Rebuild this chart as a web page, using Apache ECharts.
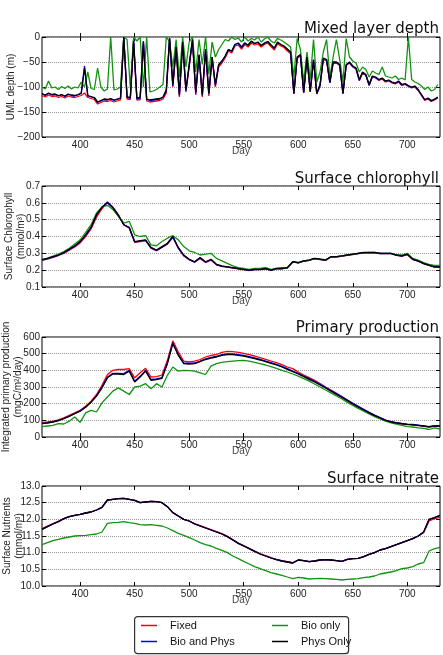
<!DOCTYPE html>
<html>
<head>
<meta charset="utf-8">
<script src="https://cdn.jsdelivr.net/npm/echarts@6/dist/echarts.min.js"></script>
<style>
  html, body { margin: 0; padding: 0; background: #fff; }
  #chart { width: 443px; height: 655px; }
</style>
</head>
<body>
<div id="chart"></div>
<script>
// --- data (days 365..730) ---
const seriesNames = ["Fixed", "Bio and Phys", "Bio only", "Phys Only"];
const seriesColors = ["#ff0000", "#0000ff", "#119311", "#000000"];
const xTicks = [400, 450, 500, 550, 600, 650, 700];

// mixed layer depth, every 3 days from day 365
const mldFixed = [-117,-120,-116,-119,-118,-121,-119,-122,-118,-120,-121,-119,-117,-112,-121,-123,-125,-134,-131,-128,-129,-127,-130,-128,-126,-2,-124,-125,-10,-126,-125,-12,-128,-130,-129,-128,-127,-124,-112,-4,-100,-24,-120,-14,-110,-60,-8,-116,-40,-120,-28,-118,-44,-100,-60,-52,-42,-28,-32,-18,-16,-24,-15,-20,-12,-16,-14,-20,-15,-12,-19,-26,-14,-18,-21,-28,-33,-114,-43,-38,-112,-43,-110,-48,-114,-98,-45,-48,-92,-53,-52,-57,-113,-57,-52,-60,-64,-87,-72,-77,-96,-80,-82,-87,-84,-90,-88,-92,-94,-90,-97,-95,-99,-102,-100,-107,-117,-127,-124,-129,-126,-122];
const mldBioPhys = [-114,-117,-113,-116,-115,-118,-116,-119,-115,-117,-118,-116,-113,-58,-118,-120,-122,-131,-128,-125,-126,-124,-127,-125,-123,0,-121,-122,-6,-123,-122,-8,-125,-127,-126,-125,-124,-121,-108,-2,-98,-18,-117,-10,-108,-56,-5,-113,-36,-117,-24,-114,-40,-97,-56,-49,-38,-25,-29,-15,-13,-21,-12,-17,-9,-13,-11,-17,-13,-9,-16,-23,-11,-15,-19,-25,-31,-114,-41,-36,-112,-41,-110,-46,-114,-97,-43,-46,-92,-51,-51,-56,-114,-56,-51,-59,-63,-87,-71,-76,-97,-79,-81,-86,-83,-89,-87,-91,-93,-89,-96,-94,-98,-101,-99,-106,-116,-126,-123,-128,-125,-121];
const mldBio = [-100,-104,-88,-102,-100,-105,-99,-103,-98,-104,-100,-102,-90,-100,-70,-103,-105,-62,-100,-108,-104,0,-106,-104,-100,0,-5,-102,0,-8,0,-100,0,-110,-108,-105,-100,-95,0,-10,-60,-5,-80,0,-60,-10,0,-70,-5,-55,0,-75,-10,-40,-25,-15,-5,-8,0,-5,-2,-10,0,-8,-3,-6,0,-10,-4,0,-8,-12,-3,-6,-10,-15,-20,-80,-3,-25,-90,-30,-85,-5,-90,-70,-30,-5,-80,-40,-5,-45,-90,-3,-40,-48,-52,-70,-60,-65,-80,-68,-72,-75,-60,-78,-80,-82,-78,-85,-82,-86,0,-85,-90,-93,-98,-105,-100,-108,-105,-95];
const mldPhys = [-113,-116,-112,-115,-114,-117,-115,-118,-114,-116,-117,-115,-112,-62,-117,-119,-121,-130,-127,-124,-125,-123,-126,-124,-122,0,-120,-121,-8,-122,-121,-10,-124,-126,-125,-124,-123,-120,-105,-2,-95,-20,-115,-10,-105,-55,-5,-110,-35,-115,-25,-112,-40,-95,-55,-48,-38,-25,-28,-15,-12,-20,-12,-16,-8,-13,-10,-17,-12,-9,-16,-22,-10,-15,-18,-24,-30,-112,-40,-35,-110,-40,-108,-45,-112,-95,-42,-45,-90,-50,-50,-55,-112,-55,-50,-58,-62,-85,-70,-75,-95,-78,-80,-85,-82,-88,-86,-90,-92,-88,-95,-93,-97,-100,-98,-105,-115,-125,-122,-127,-124,-120];

// surface chlorophyll, every 5 days from day 365
const chlFixed = [0.258,0.266,0.276,0.287,0.3,0.318,0.338,0.362,0.4,0.445,0.515,0.565,0.605,0.575,0.53,0.47,0.45,0.365,0.37,0.375,0.33,0.315,0.335,0.355,0.395,0.33,0.285,0.262,0.247,0.27,0.245,0.26,0.232,0.222,0.218,0.212,0.208,0.203,0.198,0.203,0.203,0.208,0.198,0.208,0.208,0.213,0.248,0.243,0.253,0.258,0.268,0.263,0.258,0.278,0.278,0.283,0.288,0.293,0.298,0.303,0.303,0.303,0.298,0.298,0.298,0.288,0.283,0.293,0.263,0.253,0.238,0.228,0.218,0.218];
const chlBioPhys = [0.26,0.268,0.278,0.289,0.303,0.322,0.342,0.367,0.407,0.452,0.527,0.572,0.603,0.573,0.527,0.47,0.452,0.367,0.372,0.377,0.332,0.317,0.337,0.357,0.398,0.332,0.287,0.263,0.248,0.272,0.247,0.262,0.233,0.223,0.219,0.213,0.209,0.204,0.199,0.204,0.204,0.209,0.199,0.209,0.209,0.214,0.249,0.244,0.254,0.259,0.269,0.264,0.259,0.279,0.279,0.284,0.289,0.294,0.299,0.304,0.304,0.304,0.299,0.299,0.299,0.289,0.284,0.294,0.264,0.254,0.239,0.229,0.219,0.219];
const chlBio = [0.262,0.272,0.283,0.295,0.31,0.33,0.355,0.38,0.425,0.47,0.54,0.575,0.585,0.56,0.52,0.48,0.49,0.41,0.4,0.405,0.35,0.345,0.37,0.39,0.405,0.38,0.34,0.315,0.305,0.29,0.295,0.3,0.27,0.255,0.24,0.225,0.215,0.21,0.205,0.21,0.21,0.215,0.205,0.21,0.215,0.215,0.25,0.245,0.255,0.26,0.27,0.265,0.262,0.28,0.28,0.285,0.29,0.295,0.3,0.303,0.305,0.305,0.3,0.3,0.3,0.292,0.29,0.3,0.27,0.26,0.245,0.235,0.228,0.228];
const chlPhys = [0.262,0.27,0.28,0.29,0.305,0.325,0.345,0.37,0.41,0.455,0.53,0.575,0.6,0.57,0.525,0.47,0.455,0.37,0.375,0.38,0.335,0.32,0.34,0.36,0.4,0.335,0.29,0.265,0.25,0.275,0.25,0.265,0.235,0.225,0.22,0.215,0.21,0.205,0.2,0.205,0.205,0.21,0.2,0.21,0.21,0.215,0.25,0.245,0.255,0.26,0.27,0.265,0.26,0.28,0.28,0.285,0.29,0.295,0.3,0.305,0.305,0.305,0.3,0.3,0.3,0.29,0.285,0.295,0.265,0.255,0.24,0.23,0.22,0.22];

// integrated primary production, every 5 days from day 365
const ppFixed = [86,90,95,103,115,130,145,160,185,215,255,310,375,400,405,405,410,355,385,412,360,362,372,460,578,510,455,450,455,465,480,490,495,508,514,512,508,502,494,486,476,466,456,446,434,420,410,390,372,356,340,320,300,282,262,242,222,202,182,164,146,130,116,102,92,84,78,74,72,68,64,62,66,68];
const ppBioPhys = [82,86,91,99,111,126,141,157,180,210,248,300,360,382,382,380,400,334,364,400,345,348,356,446,566,495,444,442,444,456,469,478,484,494,499,498,494,489,482,474,466,456,446,436,424,410,396,382,366,350,334,316,298,279,260,241,222,202,184,166,148,131,117,102,92,86,81,77,75,71,67,62,67,66];
const ppBio = [62,66,70,80,78,95,120,88,145,160,150,205,240,275,295,275,255,300,305,320,290,320,300,370,420,395,400,398,395,385,375,425,440,448,452,455,458,460,455,448,440,432,422,412,400,390,378,365,350,335,318,300,282,265,246,228,208,190,172,155,138,122,108,95,85,78,70,62,60,55,52,45,55,48];
const ppPhys = [80,84,90,98,110,124,140,155,178,208,245,295,355,378,378,375,395,330,360,395,340,345,352,440,560,490,440,438,440,452,465,474,480,490,495,494,490,485,478,470,462,452,442,432,420,406,392,378,362,346,330,312,294,275,256,237,218,198,180,162,145,128,114,100,90,84,80,76,74,70,66,60,66,65];

// surface nitrate, every 5 days from day 365
const no3Fixed = [11.72,11.8,11.87,11.94,12.02,12.08,12.12,12.15,12.19,12.22,12.28,12.36,12.57,12.6,12.62,12.63,12.6,12.57,12.5,12.52,12.54,12.53,12.5,12.38,12.2,12.1,12.0,11.95,11.87,11.81,11.75,11.69,11.63,11.57,11.49,11.39,11.29,11.21,11.13,11.05,10.97,10.91,10.85,10.8,10.76,10.73,10.7,10.78,10.76,10.73,10.75,10.78,10.79,10.78,10.76,10.74,10.8,10.82,10.83,10.88,10.95,11.0,11.08,11.12,11.18,11.24,11.3,11.36,11.42,11.5,11.6,11.95,12.02,12.06];
const no3BioPhys = [11.7,11.78,11.86,11.93,12.02,12.08,12.12,12.15,12.19,12.22,12.28,12.36,12.58,12.6,12.62,12.63,12.6,12.57,12.5,12.52,12.54,12.53,12.5,12.38,12.2,12.1,12.0,11.95,11.86,11.8,11.74,11.68,11.62,11.56,11.48,11.38,11.28,11.2,11.12,11.04,10.96,10.9,10.84,10.79,10.75,10.72,10.69,10.78,10.76,10.73,10.75,10.78,10.79,10.78,10.76,10.74,10.8,10.82,10.83,10.88,10.95,11.0,11.08,11.12,11.18,11.24,11.3,11.36,11.42,11.5,11.62,12.0,12.05,12.12];
const no3Bio = [11.24,11.3,11.36,11.4,11.44,11.47,11.5,11.51,11.52,11.54,11.56,11.62,11.88,11.9,11.91,11.93,11.9,11.88,11.84,11.83,11.84,11.82,11.8,11.74,11.66,11.58,11.52,11.45,11.38,11.3,11.24,11.2,11.13,11.07,11.0,10.9,10.82,10.74,10.66,10.58,10.52,10.46,10.4,10.36,10.32,10.27,10.22,10.26,10.24,10.21,10.22,10.23,10.22,10.21,10.2,10.18,10.2,10.21,10.22,10.25,10.27,10.3,10.36,10.39,10.42,10.46,10.52,10.54,10.58,10.66,10.7,11.05,11.12,11.16];
const no3Phys = [11.7,11.78,11.86,11.93,12.02,12.08,12.12,12.15,12.19,12.22,12.28,12.36,12.58,12.6,12.62,12.63,12.6,12.57,12.5,12.52,12.54,12.53,12.5,12.38,12.2,12.1,12.0,11.95,11.86,11.8,11.74,11.68,11.62,11.56,11.48,11.38,11.28,11.2,11.12,11.04,10.96,10.9,10.84,10.79,10.75,10.72,10.69,10.78,10.76,10.73,10.75,10.78,10.79,10.78,10.76,10.74,10.8,10.82,10.83,10.88,10.95,11.0,11.08,11.12,11.18,11.24,11.3,11.36,11.42,11.5,11.62,12.0,12.05,12.12];

const mldDays = [];
for (let d = 365; d <= 728; d += 3) mldDays.push(d);
const days = [];
for (let d = 365; d <= 730; d += 5) days.push(d);

const pairs = (xs, ys) => xs.map((x, i) => [x, ys[i]]);
const minus = v => (v < 0 ? "\u2212" + Math.abs(v) : String(v));

const panels = [
  { title: "Mixed layer depth", top: 37, height: 100, titleTop: 22, min: -200, max: 0, interval: 50,
    name: "UML depth (m)", nameGap: 25, fmt: minus, x: mldDays, data: [mldFixed, mldBioPhys, mldBio, mldPhys] },
  { title: "Surface chlorophyll", top: 186, height: 101, titleTop: 172, min: 0.1, max: 0.7, interval: 0.1,
    name: "Surface Chlorophyll\n(mmol/m\u00b3)", nameGap: 15, fmt: v => v.toFixed(1), x: days, data: [chlFixed, chlBioPhys, chlBio, chlPhys] },
  { title: "Primary production", top: 337, height: 100, titleTop: 321, min: 0, max: 600, interval: 100,
    name: "Integrated primary production\n(mgC/m\u00b2/day)", nameGap: 18, fmt: v => String(v), x: days, data: [ppFixed, ppBioPhys, ppBio, ppPhys] },
  { title: "Surface nitrate", top: 486, height: 100, titleTop: 472, min: 10, max: 13, interval: 0.5,
    name: "Surface Nutrients\n(mmol/m\u00b3)", nameGap: 17, fmt: v => v.toFixed(1), x: days, data: [no3Fixed, no3BioPhys, no3Bio, no3Phys] }
];

const font = "'Liberation Sans', Arial, sans-serif";
const tickFont = "'Liberation Sans Narrow', 'Arial Narrow', 'Liberation Sans', sans-serif";
const tickStyle = { inside: true, length: 4, lineStyle: { color: "#000", width: 1 } };

const grid = [], xAxis = [], yAxis = [], title = [], series = [];
panels.forEach((p, i) => {
  grid.push({ left: 42, right: 3, top: p.top, height: p.height, show: true, outerBoundsMode: "none",
    containLabel: false, borderColor: "#000", borderWidth: 1, backgroundColor: "#fff" });
  title.push({ text: p.title, right: 4, top: p.titleTop, padding: 0,
    textStyle: { fontFamily: "'DejaVu Sans', sans-serif", fontSize: 15, fontWeight: "normal", color: "#111" } });

  // bottom and top x axes
  xAxis.push({ type: "value", gridIndex: i, min: 365, max: 730, position: "bottom",
    name: "Day", nameLocation: "middle", nameGap: 9, nameMoveOverlap: false,
    nameTextStyle: { fontFamily: font, fontSize: 10, color: "#444" },
    axisLine: { show: false },
    axisTick: Object.assign({ customValues: xTicks }, tickStyle),
    axisLabel: { customValues: xTicks, margin: 3, fontFamily: tickFont, fontSize: 10, color: "#222" },
    splitLine: { show: false } });
  xAxis.push({ type: "value", gridIndex: i, min: 365, max: 730, position: "top",
    axisLine: { show: false },
    axisTick: Object.assign({ customValues: xTicks }, tickStyle),
    axisLabel: { show: false }, splitLine: { show: false } });

  // left and right y axes
  yAxis.push({ type: "value", gridIndex: i, min: p.min, max: p.max, interval: p.interval, position: "left",
    name: p.name, nameLocation: "middle", nameGap: p.nameGap, nameRotate: 90, nameMoveOverlap: false,
    nameTextStyle: { fontFamily: font, fontSize: 10, color: "#222", lineHeight: 12 },
    axisLine: { show: false }, axisTick: tickStyle,
    axisLabel: { margin: 2, fontFamily: tickFont, fontSize: 10, color: "#222", formatter: p.fmt },
    splitLine: { show: true, lineStyle: { type: "dotted", color: "#999", width: 1 } } });
  yAxis.push({ type: "value", gridIndex: i, min: p.min, max: p.max, interval: p.interval, position: "right",
    axisLine: { show: false }, axisTick: tickStyle,
    axisLabel: { show: false }, splitLine: { show: false } });

  p.data.forEach((vals, k) => {
    series.push({ name: seriesNames[k], type: "line", xAxisIndex: i * 2, yAxisIndex: i * 2,
      data: pairs(p.x, vals), symbol: "none", color: seriesColors[k],
      lineStyle: { width: 1.3, color: seriesColors[k] }, z: 2 + k });
  });
});

const legendText = { fontFamily: font, fontSize: 11, color: "#111", padding: [0, 0, 0, 8] };
const legendBase = { orient: "vertical", top: 620, padding: 0, icon: "rect",
  itemWidth: 16, itemHeight: 1.5, itemGap: 5, textStyle: legendText };

const chart = echarts.init(document.getElementById("chart"));
chart.setOption({
  animation: false,
  backgroundColor: "#fff",
  title: title,
  grid: grid,
  xAxis: xAxis,
  yAxis: yAxis,
  legend: [
    Object.assign({ data: ["Fixed", "Bio and Phys"], left: 141 }, legendBase),
    Object.assign({ data: ["Bio only", "Phys Only"], left: 272 }, legendBase)
  ],
  graphic: [
    { type: "rect", left: 134, top: 616, z: -1,
      shape: { width: 214, height: 37, r: 3 },
      style: { fill: "#fff", stroke: "#333", lineWidth: 1.2 } }
  ],
  series: series
});
</script>
</body>
</html>
